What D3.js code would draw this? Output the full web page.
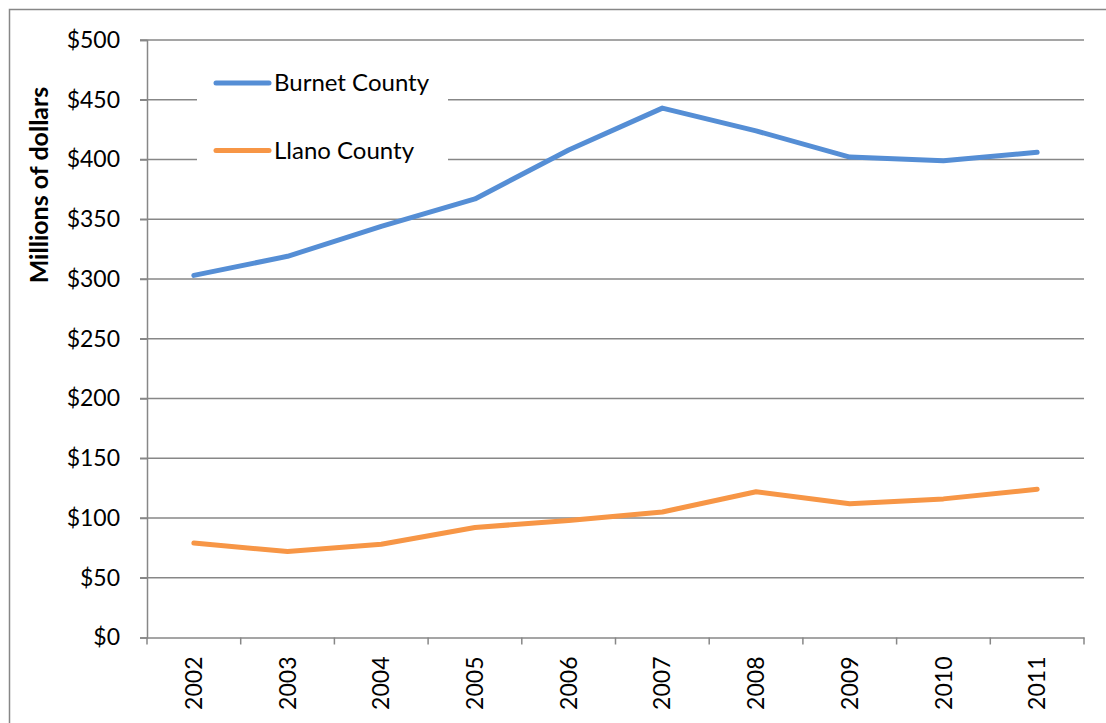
<!DOCTYPE html>
<html>
<head>
<meta charset="utf-8">
<script src="https://cdn.jsdelivr.net/npm/d3@7"></script>
<style>
  body { margin: 0; background: #fff; }
  svg { display: block; font-family: Lato, "Open Sans", sans-serif; }
</style>
</head>
<body>
<svg width="1106" height="723"></svg>
<script>
'use strict';

const years = ["2002", "2003", "2004", "2005", "2006", "2007", "2008", "2009", "2010", "2011"];
const burnet = [303, 319, 344, 367, 408, 443, 424, 402, 399, 406];
const llano = [79, 72, 78, 92, 98, 105, 122, 112, 116, 124];
const yTicks = [0, 50, 100, 150, 200, 250, 300, 350, 400, 450, 500];
const seriesNames = ["Burnet County", "Llano County"];
const seriesColors = ["#558ED5", "#F79646"];

const svg = d3.select("svg");
const plotLeft = 147, plotRight = 1084, plotTop = 40, plotBottom = 637.5;
const grey = "#878787";

// outer chart border (cut by the picture on right and bottom)
svg.append("rect")
    .attr("x", 9.5).attr("y", 9.5)
    .attr("width", 1200).attr("height", 800)
    .attr("fill", "none").attr("stroke", grey).attr("stroke-width", 1.5);

const x = d3.scaleBand().domain(years).range([plotLeft, plotRight]);
const y = d3.scaleLinear().domain([0, 500]).range([plotBottom, plotTop]);

// gridlines
svg.append("g").selectAll("line")
    .data(yTicks.filter(d => d > 0))
    .enter().append("line")
    .attr("x1", plotLeft - 7).attr("x2", plotRight)
    .attr("y1", d => y(d)).attr("y2", d => y(d))
    .attr("stroke", grey).attr("stroke-width", 1.5);

// y axis
const yAxis = svg.append("g")
    .attr("transform", "translate(" + plotLeft + ",0)")
    .call(d3.axisLeft(y).tickValues(yTicks).tickSize(7).tickPadding(20)
        .tickFormat(d => "$" + d));
yAxis.select(".domain").attr("stroke", grey).attr("stroke-width", 1.5);
yAxis.selectAll(".tick line").attr("stroke", grey).attr("stroke-width", 1.5);
yAxis.selectAll("text").attr("font-size", 23).attr("fill", "#000")
    .attr("font-family", "Lato, sans-serif");

// x axis
const xAxis = svg.append("g")
    .attr("transform", "translate(0," + plotBottom + ")")
    .call(d3.axisBottom(x).tickSize(0).tickPadding(0));
xAxis.select(".domain").attr("stroke", grey).attr("stroke-width", 1.5);
xAxis.selectAll("text")
    .attr("font-size", 23).attr("fill", "#000")
    .attr("font-family", "Lato, sans-serif")
    .attr("text-anchor", "end")
    .attr("y", 0)
    .attr("dy", "0.35em")
    .attr("transform", "translate(0,19) rotate(-90)");
// tick marks between categories
svg.append("g").selectAll("line")
    .data(years.concat(["end"]))
    .enter().append("line")
    .attr("x1", (d, i) => plotLeft + i * x.step())
    .attr("x2", (d, i) => plotLeft + i * x.step())
    .attr("y1", plotBottom).attr("y2", plotBottom + 7)
    .attr("stroke", grey).attr("stroke-width", 1.5);

// axis title
svg.append("text")
    .attr("transform", "translate(48,185) rotate(-90)")
    .attr("text-anchor", "middle")
    .attr("font-size", 25).attr("font-weight", "bold")
    .text("Millions of dollars");

// lines
const line = d3.line()
    .x((d, i) => x(years[i]) + x.bandwidth() / 2)
    .y(d => y(d));

[burnet, llano].forEach((s, i) => {
    svg.append("path")
        .datum(s)
        .attr("d", line)
        .attr("fill", "none")
        .attr("stroke", seriesColors[i])
        .attr("stroke-width", 5)
        .attr("stroke-linecap", "round")
        .attr("stroke-linejoin", "round");
});

// legend
const legend = svg.append("g");
legend.append("rect")
    .attr("x", 197).attr("y", 62)
    .attr("width", 251).attr("height", 112)
    .attr("fill", "#fff");
const items = legend.selectAll("g.item")
    .data(seriesNames)
    .enter().append("g")
    .attr("class", "item")
    .attr("transform", (d, i) => "translate(0," + (83 + i * 67.5) + ")");
items.append("line")
    .attr("x1", 216).attr("x2", 269)
    .attr("stroke", (d, i) => seriesColors[i])
    .attr("stroke-width", 5)
    .attr("stroke-linecap", "round");
items.append("text")
    .attr("x", 274).attr("dy", "0.35em")
    .attr("font-size", 24)
    .text(d => d);
</script>
</body>
</html>
